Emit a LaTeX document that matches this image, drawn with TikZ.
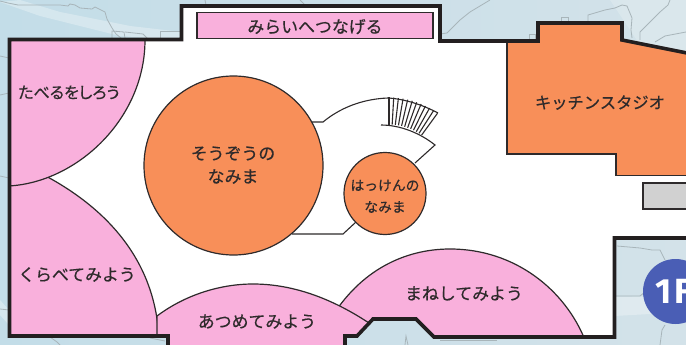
\documentclass[tikz,border=0pt]{standalone}
\usepackage{fontspec}
\usetikzlibrary{calc}
\setmainfont{Liberation Sans}
\newfontfamily\jp[FakeBold=0.5]{Noto Sans CJK JP}
\newfontfamily\jpp[FakeBold=0.5,RawFeature=+palt]{Noto Sans CJK JP}
\newfontfamily\badgefont{Fira Sans}[UprightFont=* Bold]
\definecolor{wallc}{HTML}{231F20}
\definecolor{pinkc}{HTML}{F9B0DC}
\definecolor{orangec}{HTML}{F88F59}
\definecolor{inkc}{HTML}{2E2A2B}
\definecolor{mapa}{HTML}{C3DDE8}
\definecolor{mapb}{HTML}{D3E2E9}
\definecolor{mapline}{HTML}{A8B5BA}
\definecolor{blue1f}{HTML}{4A5EB5}
\tikzset{
  wall/.style={draw=wallc,line width=3.6pt,line join=miter},
  room/.style={draw=inkc,line width=1.2pt,fill=pinkc},
  orangeroom/.style={draw=inkc,line width=1.2pt,fill=orangec},
  thinline/.style={draw=inkc,line width=1.1pt},
  mapl/.style={draw=mapline,line width=0.8pt},
  streak/.style={fill=white,opacity=0.3},
  lab/.style={font=\jp\fontsize{16.9}{19}\selectfont,text=inkc,inner sep=0pt,align=center,text depth=0pt},
  labs/.style={font=\jp\fontsize{13.8}{21}\selectfont,text=inkc,inner sep=0pt,align=center}
}
\begin{document}
\begin{tikzpicture}[x=1pt,y=-1pt]
\useasboundingbox (0,0) rectangle (686,345);
% map
\fill[left color=mapa,right color=mapb] (0,0) rectangle (686,345);
\fill[white,opacity=0.18] (540,0) -- (610,0) -- (640,45) -- (686,55) -- (686,0) -- cycle;
\fill[streak] (0,2) -- (40,16) -- (120,36) -- (180,40) -- (182,32) -- (130,26) -- (60,12) -- (20,0) -- cycle;
\fill[streak] (614,297) -- (686,296) -- (686,312) -- (614,316) -- cycle;
\fill[streak] (0,300) -- (9,310) -- (9,325) -- (0,315) -- cycle;
% map borders
\draw[mapl] (0,1) -- (8,3) -- (18,5) -- (60,5) -- (68,6) -- (70,4) -- (75,5) -- (80,8) -- (92,9) -- (95,7) -- (105,12) -- (107,19) -- (112,28) -- (116,34) -- (121,38);
\draw[mapl] (112,38) -- (112,31) -- (124,32) -- (125,38);
\draw[mapl] (125,32) -- (143,34) -- (147,38);
\draw[mapl] (160,38) -- (160,31) -- (181,31);
\draw[mapl] (440,34) -- (447,33) -- (460,20) -- (470,12) -- (480,6) -- (490,0);
\draw[mapl] (529,34) rectangle (535,40);
\draw[mapl] (561,17) rectangle (568,22);
\draw[mapl] (588,22) -- (588,15) -- (605,10) -- (615,8) -- (622,5) -- (627,6) -- (632,18) -- (631,30) -- (632,38);
\draw[mapl] (640,40) -- (640,32) -- (650,22) -- (660,12) -- (668,5) -- (670,0);
\draw[mapl] (655,42) -- (665,36) -- (686,32);
\draw[mapl] (0,56) -- (9,58);
\draw[mapl] (0,95) -- (9,93);
\draw[mapl] (0,309) -- (9,310);
\draw[mapl] (0,176) -- (9,178);
\draw[mapl] (50,337) -- (57,342) -- (60,345);
\draw[mapl] (150,338) -- (165,341);
\draw[mapl] (440,340) -- (497,340);
\draw[mapl] (405,345) -- (406,336) -- (408,345);
\draw[mapl] (205,0) -- (206,5);
\draw[mapl] (300,0) -- (305,5) -- (320,5);
\draw[mapl] (617,246) -- (640,248) -- (652,250) -- (660,250) -- (665,260);
\draw[mapl] (616,296) -- (640,296) -- (645,292);
\draw[mapl] (665,325) -- (662,330) -- (660,345);
% badge
\node[circle,fill=blue1f,minimum size=65pt,inner sep=0pt] (badge) at (675.5,291.5) {};
\node[anchor=base west,text=white,inner sep=0pt,font=\badgefont\fontsize{35}{35}\selectfont] (badgetext) at (655,303) {1\kern3pt F};
% interior
\path[fill=white] (9.5,39.5) -- (181.5,39.5) -- (181.5,6) -- (440,6) -- (440,41) -- (538,41) -- (538,23) -- (622,23) -- (622,40) -- (690,53) -- (690,238) -- (614.5,238) -- (614.5,337) -- (434,337) -- (416,319) -- (373,319) -- (357,336) -- (345,336) -- (345,350) -- (167,350) -- (167,335) -- (9.5,335) -- cycle;
% rooms clipped to the interior
\begin{scope}
\clip (9.5,39.5) -- (181.5,39.5) -- (181.5,6) -- (440,6) -- (440,41) -- (538,41) -- (538,23) -- (622,23) -- (622,40) -- (690,53) -- (690,238) -- (614.5,238) -- (614.5,337) -- (434,337) -- (416,319) -- (373,319) -- (357,336) -- (345,336) -- (345,350) -- (167,350) -- (167,335) -- (9.5,335) -- cycle;
\path[room] (159,340) .. controls (156,262) and (108,205) .. (30,168) -- (0,168) -- (0,340) -- cycle;
\path[room] (145,35) -- (145,40) .. controls (145,118) and (78,182) .. (9,186) -- (0,186) -- (0,35) -- cycle;
\path[room] (330,320) .. controls (360,270) and (405,249) .. (450,249) .. controls (515,249) and (565,290) .. (585,340) -- (330,345) -- cycle;
\path[room] (157,316) .. controls (185,295) and (220,284) .. (253,284) .. controls (295,284) and (335,300) .. (372,325) -- (372,350) -- (157,350) -- cycle;
\path[orangeroom] (507,35) -- (507,154) -- (616,154) -- (616,175.5) -- (695,175.5) -- (695,20) -- (507,20) -- cycle;
\end{scope}
% gray box
\path[fill=black!18,draw=inkc,line width=1.3pt] (643,183) rectangle (692,209);
% top banner
\node[rectangle,draw=inkc,line width=1.2pt,fill=pinkc,minimum width=236pt,minimum height=26.5pt,inner sep=0pt] (banner) at (315,25.5) {};
% stairs
\coordinate (c) at (389,180);
\draw[thinline] (312,122) -- (323,122) .. controls (340,108) and (362,99) .. (388,98) .. controls (405,99) and (423,105) .. (438,113);
\draw[thinline] (381,125) .. controls (400,125) and (420,133) .. (435,145) -- (415,163);
\draw[thinline] (292,234) -- (343,234) -- (356,222);
\foreach \a in {0,...,11}{
  \pgfmathsetmacro{\t}{90-\a*36/11}
  \draw[thinline] ($(c)+({82.5*cos(\t)},{-82.5*sin(\t)})$) -- ($(c)+({55.5*cos(\t)},{-55.5*sin(\t)})$);
}
% circles
\node[circle,orangeroom,minimum size=179pt,inner sep=0pt] (sozo) at (233.5,165.5) {};
\node[circle,orangeroom,minimum size=82pt,inner sep=0pt] (hakken) at (385,193.5) {};
% wall
\path[wall] (168,350) -- (168,336) -- (9.5,336) -- (9.5,39.5) -- (181.5,39.5) -- (181.5,6) -- (440,6) -- (440,41) -- (538,41) -- (538,23) -- (622,23) -- (622,40) -- (692,54);
\path[wall] (692,238) -- (614.5,238) -- (614.5,337) -- (434,337) -- (416,319) -- (373,319) -- (357,336) -- (345,336) -- (345,350);
% labels
\node[lab] (l1) at (315,26) {みらいへつなげる};
\node[lab] (l2) at (69,92) {\jpp\fontsize{16}{17}\selectfont たべるをしろう};
\node[lab] (l3) at (600,102) {\fontsize{16.3}{19}\selectfont キッチンスタジオ};
\node[lab] (l4) at (233,153) {そうぞうの};
\node[lab] (l5) at (233,176) {なみま};
\node[labs] (l6) at (385,185.5) {はっけんの};
\node[labs] (l7) at (385,207) {なみま};
\node[lab] (l8) at (77,274) {くらべてみよう};
\node[lab] (l9) at (257,321) {あつめてみよう};
\node[lab] (l10) at (464,293) {まねしてみよう};
\end{tikzpicture}
\end{document}
